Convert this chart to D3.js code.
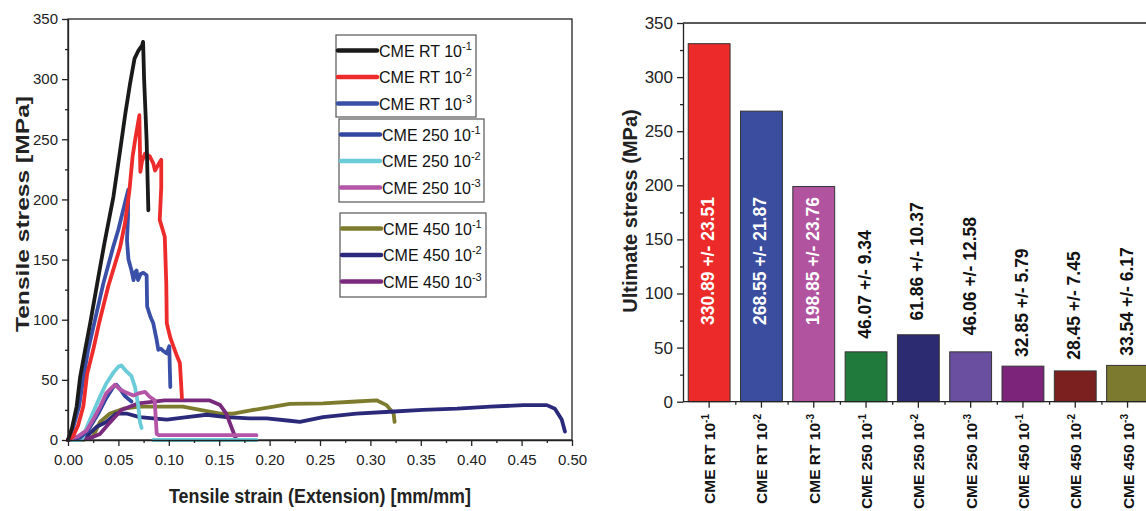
<!DOCTYPE html>
<html>
<head>
<meta charset="utf-8">
<script src="https://cdn.jsdelivr.net/npm/d3@7"></script>
<style>
  body { margin: 0; background: #fff; }
  svg { display: block; font-family: "Liberation Sans", Arial, sans-serif; }
</style>
</head>
<body>
<svg id="chart" width="1146" height="511"></svg>
<script>
// ---- data ----
const seriesNames = ["CME RT 10^-1", "CME RT 10^-2", "CME RT 10^-3",
                     "CME 250 10^-1", "CME 250 10^-2", "CME 250 10^-3",
                     "CME 450 10^-1", "CME 450 10^-2", "CME 450 10^-3"]
const curveColors = ["#1a1a1a", "#ee2b2b", "#3a50a8", "#3346a0", "#6ccbd8", "#b455a8", "#7d7c2e", "#2b2a7a", "#7a2a7c"]

// stress-strain curves [strain, stress]
const rt1 = [[0,0],[0.004,10],[0.0086,28],[0.012,52],[0.017,75],[0.022,97],[0.03,135],[0.036,163],[0.045,202],
  [0.0516,240],[0.057,272],[0.0615,296],[0.066,317],[0.07,324],[0.0735,328],[0.0745,331],[0.0755,300],
  [0.077,270],[0.078,249],[0.079,215],[0.0797,191]]
const rt2 = [[0,0],[0.005,3],[0.01,12],[0.0152,28],[0.019,55],[0.025,75],[0.0308,97],[0.04,128],[0.0516,160],
  [0.0565,180],[0.061,208],[0.064,235],[0.0665,249],[0.0708,270],[0.0714,240],[0.0718,223],[0.0735,232],
  [0.0764,238],[0.081,236],[0.0846,230],[0.0863,224],[0.091,231],[0.0925,233],[0.0925,210],[0.091,183],
  [0.096,169],[0.0975,130],[0.098,97],[0.1015,85],[0.1045,78],[0.108,70],[0.111,64],[0.112,50],[0.113,35]]
const rt3 = [[0,0],[0.005,10],[0.011,28],[0.015,50],[0.02,75],[0.026,97],[0.035,130],[0.045,161],[0.05,175],
  [0.055,192],[0.0598,208],[0.0595,185],[0.0585,166],[0.06,150],[0.062,144],[0.063,141],[0.065,133],
  [0.067,140],[0.068,141],[0.0695,133],[0.072,138],[0.0747,139],[0.078,137],[0.0785,111],[0.082,102],
  [0.0846,97],[0.088,83],[0.0896,75],[0.092,76],[0.0946,74],[0.098,72],[0.1005,78],[0.101,60],[0.1015,44]]
const c250a = [[0,0],[0.012,2],[0.02,8],[0.03,22],[0.038,35],[0.045,44],[0.048,46],[0.052,42],[0.056,37],
  [0.06,34],[0.063,32]]
const c250b = [[0,0],[0.0136,0],[0.0218,17],[0.0317,36],[0.038,47],[0.045,56],[0.05,61],[0.053,62],[0.058,57],
  [0.063,53],[0.0665,44],[0.0698,28],[0.0714,15],[0.073,10],null,[0.0846,0],[0.187,0]]
const c250c = [[0,0],[0.01,3],[0.0185,8],[0.025,17],[0.032,28],[0.038,39],[0.0466,46],[0.0516,42],[0.0565,40],
  [0.0648,37],[0.071,39],[0.0764,40],[0.081,36],[0.086,33],[0.088,5],[0.09,4],[0.187,4]]
const c450a = [[0,0],[0.015,0],[0.025,3],[0.0317,15],[0.0417,22],[0.055,26],[0.071,27.7],[0.091,27.7],
  [0.114,27.7],[0.131,25],[0.151,22],[0.164,22],[0.184,25],[0.204,27.7],[0.22,30],[0.253,30.5],[0.286,32],
  [0.306,33],[0.316,29],[0.323,22],[0.324,15]]
const c450b = [[0,0],[0.0185,3],[0.0284,11],[0.038,15],[0.048,22],[0.058,22],[0.071,19],[0.0846,18],[0.098,17],
  [0.118,19],[0.1376,21],[0.157,19],[0.18,18],[0.197,18],[0.22,16],[0.23,15],[0.253,19],[0.286,22],
  [0.319,23.5],[0.352,25],[0.386,26],[0.419,27.7],[0.452,29],[0.475,29],[0.483,26],[0.4898,17],[0.493,7]]
const c450c = [[0,0],[0.0218,1.5],[0.0317,5],[0.04,13],[0.053,25],[0.07,30.5],[0.096,33],[0.14,33],
  [0.151,29],[0.157,22],[0.162,11],[0.167,0]]
const curves = [rt1, rt2, rt3, c250a, c250b, c250c, c450a, c450b, c450c]
const drawOrder = [6, 7, 8, 4, 3, 5, 2, 1, 0]

// ultimate stress bars
const barValues = [330.89, 268.55, 198.85, 46.07, 61.86, 46.06, 32.85, 28.45, 33.54]
const barErrors = [23.51, 21.87, 23.76, 9.34, 10.37, 12.58, 5.79, 7.45, 6.17]
const barColors = ["#ec2a29", "#3a4d9e", "#b2539f", "#1f7a3c", "#2c2a70", "#6a4fa0", "#7b2479", "#7b1f1f", "#7b7a2e"]

const strainTicks = d3.range(0, 0.5001, 0.05)
const stressTicks = d3.range(0, 351, 50)

// ---- drawing ----
const svg = d3.select("#chart")

function label(sel, name, supSize) {
  const [base, exp] = name.split("^")
  sel.append("tspan").text(base)
  sel.append("tspan").attr("dy", -supSize * 0.6).attr("font-size", supSize).text(exp)
}

// left: stress-strain
const x = d3.scaleLinear().domain([0, 0.5]).range([68, 572])
const y = d3.scaleLinear().domain([0, 350]).range([440, 19])

svg.append("rect")
  .attr("x", x(0)).attr("y", y(350))
  .attr("width", x(0.5) - x(0)).attr("height", y(0) - y(350))
  .attr("fill", "none").attr("stroke", "#222").attr("stroke-width", 1.3)

const line = d3.line().defined(d => d).x(d => x(d[0])).y(d => y(d[1]))
drawOrder.forEach(i => {
  svg.append("path")
    .attr("d", line(curves[i]))
    .attr("fill", "none")
    .attr("stroke", curveColors[i])
    .attr("stroke-width", 3.8)
    .attr("stroke-linejoin", "round")
    .attr("stroke-linecap", "round")
})

function styleAxis(g, size) {
  g.selectAll("path, line").attr("stroke", "#222").attr("stroke-width", 1.3)
  g.selectAll("text").attr("fill", "#222").attr("font-size", size).attr("font-family", null)
}

svg.append("g").attr("transform", `translate(0,${y(0)})`)
  .call(d3.axisBottom(x).tickValues(d3.range(0.025, 0.5, 0.05)).tickSize(3).tickFormat(""))
  .call(g => g.select(".domain").remove())
  .call(styleAxis, 15)
svg.append("g").attr("transform", `translate(${x(0)},0)`)
  .call(d3.axisLeft(y).tickValues(d3.range(25, 350, 50)).tickSize(3).tickFormat(""))
  .call(g => g.select(".domain").remove())
  .call(styleAxis, 15)
svg.append("g").attr("transform", `translate(0,${y(0)})`)
  .call(d3.axisBottom(x).tickValues(strainTicks).tickSize(6).tickSizeOuter(0).tickPadding(8).tickFormat(d3.format(".2f")))
  .call(styleAxis, 15)
svg.append("g").attr("transform", `translate(${x(0)},0)`)
  .call(d3.axisLeft(y).tickValues(stressTicks).tickSize(6).tickSizeOuter(0).tickPadding(4))
  .call(styleAxis, 15)

svg.append("text")
  .attr("x", (x(0) + x(0.5)) / 2).attr("y", 503)
  .attr("text-anchor", "middle").attr("font-weight", "bold").attr("font-size", 20)
  .attr("textLength", 302).attr("lengthAdjust", "spacingAndGlyphs").attr("fill", "#222")
  .text("Tensile strain (Extension) [mm/mm]")
svg.append("text")
  .attr("transform", `translate(29,214) rotate(-90)`)
  .attr("text-anchor", "middle").attr("font-weight", "bold").attr("font-size", 19)
  .attr("textLength", 236).attr("lengthAdjust", "spacingAndGlyphs").attr("fill", "#222")
  .text("Tensile stress [MPa]")

// legends: three boxed groups
const legendGroups = [[0, 1, 2], [3, 4, 5], [6, 7, 8]]
const legendBoxes = [{x: 336, y: 35, w: 140, h: 82}, {x: 339, y: 119, w: 145, h: 83}, {x: 340, y: 213, w: 146, h: 84}]
legendGroups.forEach((grp, gi) => {
  const b = legendBoxes[gi]
  svg.append("rect").attr("x", b.x).attr("y", b.y).attr("width", b.w).attr("height", b.h)
    .attr("fill", "#fff").attr("stroke", "#555").attr("stroke-width", 1.2)
  grp.forEach((si, k) => {
    const cy = b.y + 15.5 + k * 26.5
    svg.append("line").attr("x1", b.x + 2).attr("x2", b.x + 41).attr("y1", cy).attr("y2", cy)
      .attr("stroke", curveColors[si]).attr("stroke-width", 4.5).attr("stroke-linecap", "round")
    svg.append("text").attr("x", b.x + 43).attr("y", cy + 6)
      .attr("font-size", 16).attr("fill", "#111")
      .call(label, seriesNames[si], 11)
  })
})

// right: ultimate stress bars
const xb = d3.scaleBand().domain(seriesNames).range([683, 1153.7]).paddingInner(0.2).paddingOuter(0.1)
const yb = d3.scaleLinear().domain([0, 350]).range([401.7, 23])

svg.append("line").attr("x1", 683).attr("x2", 1146).attr("y1", yb(350)).attr("y2", yb(350))
  .attr("stroke", "#222").attr("stroke-width", 1.3)

svg.selectAll(".bar").data(barValues).join("rect")
  .attr("class", "bar")
  .attr("x", (d, i) => xb(seriesNames[i]))
  .attr("y", d => yb(d))
  .attr("width", xb.bandwidth())
  .attr("height", d => yb(0) - yb(d))
  .attr("fill", (d, i) => barColors[i])
  .attr("stroke", "#333").attr("stroke-width", 1)

svg.selectAll(".blabel").data(barValues).join("text")
  .attr("class", "blabel")
  .attr("transform", (d, i) => {
    const cx = xb(seriesNames[i]) + xb.bandwidth() / 2 + 5
    const yy = i < 3 ? yb(130) : yb(d + barErrors[i]) - 3
    return `translate(${cx},${yy}) rotate(-90)`
  })
  .attr("text-anchor", (d, i) => i < 3 ? "middle" : "start")
  .attr("font-size", 17.5)
  .attr("font-weight", "bold")
  .attr("fill", (d, i) => i < 3 ? "#fff" : "#111")
  .text((d, i) => `${d.toFixed(2)} +/- ${barErrors[i].toFixed(2)}`)

// minor ticks on band boundaries
const gap = xb.step() - xb.bandwidth()
svg.append("g").attr("transform", `translate(0,${yb(0)})`)
  .call(d3.axisBottom(d3.scaleLinear().domain([0, 1]).range([0, 1]))
    .tickValues(seriesNames.slice(1).map(n => xb(n) - gap / 2)).tickSize(3).tickFormat(""))
  .call(g => g.select(".domain").remove())
  .call(styleAxis, 15)
svg.append("g").attr("transform", `translate(0,${yb(0)})`)
  .call(d3.axisBottom(xb).tickSize(6).tickSizeOuter(0).tickFormat(""))
  .call(g => g.select(".domain").attr("d", `M683,0H1146`))
  .call(styleAxis, 15)
svg.append("g").attr("transform", "translate(683,0)")
  .call(d3.axisLeft(yb).tickValues(d3.range(25, 350, 50)).tickSize(3).tickFormat(""))
  .call(g => g.select(".domain").remove())
  .call(styleAxis, 17)
svg.append("g").attr("transform", "translate(683,0)")
  .call(d3.axisLeft(yb).tickValues(stressTicks).tickSize(6).tickSizeOuter(0).tickPadding(4))
  .call(styleAxis, 17)

// rotated category labels
seriesNames.forEach(n => {
  svg.append("text")
    .attr("transform", `translate(${xb(n) + xb.bandwidth() / 2 + 6},414) rotate(-90)`)
    .attr("text-anchor", "end").attr("font-weight", "bold").attr("font-size", 15.5).attr("fill", "#111")
    .call(label, n, 10)
})

svg.append("text")
  .attr("transform", "translate(637,211) rotate(-90)")
  .attr("text-anchor", "middle").attr("font-weight", "bold").attr("font-size", 20).attr("fill", "#222")
  .text("Ultimate stress (MPa)")
</script>
</body>
</html>
